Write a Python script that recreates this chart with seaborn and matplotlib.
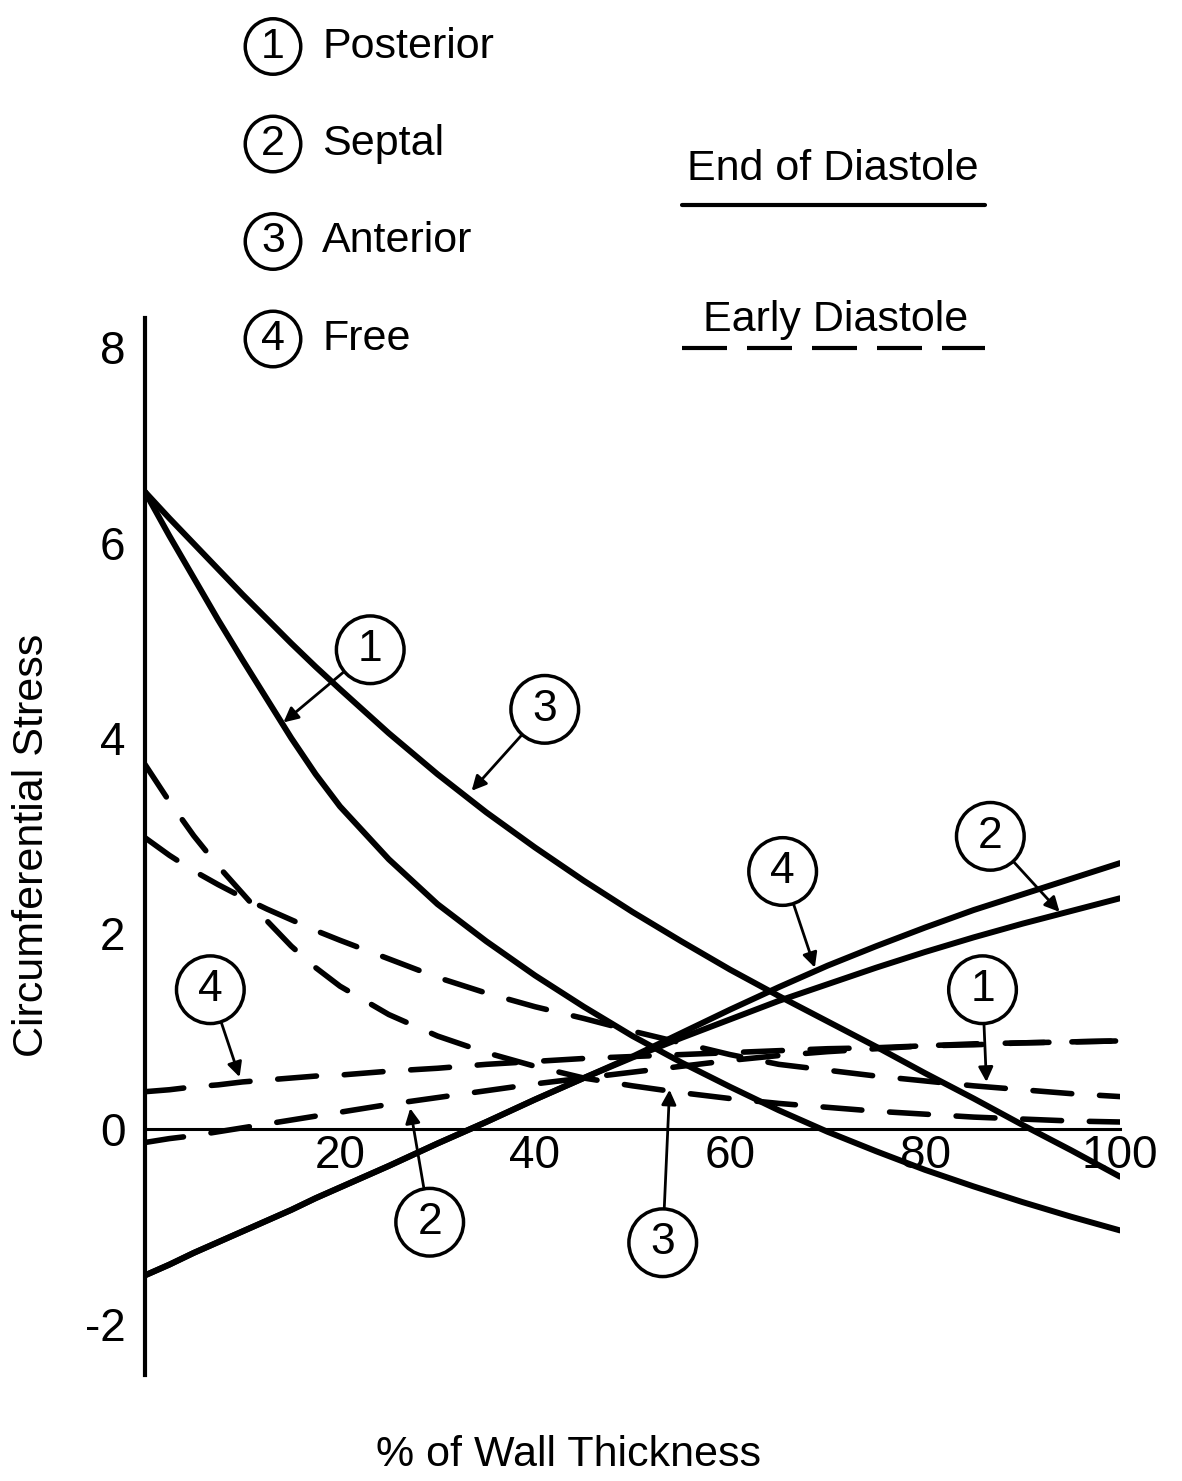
import matplotlib
matplotlib.use("Agg")
import matplotlib.pyplot as plt
import seaborn as sns
from matplotlib.lines import Line2D

# % of wall thickness
pct = [0, 2.5, 5, 7.5, 10, 12.5, 15, 17.5, 20, 25, 30, 35, 40, 45, 50, 55, 60, 65, 70, 75, 80, 85, 90, 95, 100]

# end of diastole (solid)
end_posterior = [6.52, 6.07, 5.64, 5.21, 4.8, 4.4, 4.0, 3.63, 3.3, 2.76, 2.3, 1.92, 1.57, 1.25, 0.95,
                 0.68, 0.43, 0.19, -0.03, -0.23, -0.42, -0.59, -0.75, -0.9, -1.04]
end_septal = [-1.5, -1.39, -1.27, -1.16, -1.05, -0.94, -0.83, -0.71, -0.6, -0.38, -0.15, 0.07, 0.3,
              0.52, 0.73, 0.93, 1.12, 1.31, 1.48, 1.65, 1.81, 1.96, 2.10, 2.23, 2.36]
end_anterior = [6.52, 6.25, 5.99, 5.73, 5.47, 5.22, 4.97, 4.73, 4.5, 4.05, 3.63, 3.24, 2.88, 2.54,
                2.22, 1.92, 1.63, 1.36, 1.1, 0.84, 0.57, 0.31, 0.04, -0.22, -0.49]
end_free = [-1.5, -1.39, -1.27, -1.16, -1.05, -0.94, -0.83, -0.71, -0.6, -0.38, -0.15, 0.07, 0.3,
            0.52, 0.74, 0.98, 1.22, 1.45, 1.67, 1.87, 2.06, 2.24, 2.40, 2.56, 2.72]

# early diastole (dashed)
early_posterior = [2.98, 2.8, 2.64, 2.5, 2.37, 2.25, 2.14, 2.03, 1.93, 1.74, 1.55, 1.39, 1.25,
                   1.13, 1.0, 0.88, 0.76, 0.66, 0.6, 0.54, 0.49, 0.44, 0.40, 0.36, 0.33]
early_septal = [-0.14, -0.1, -0.07, -0.03, 0.01, 0.05, 0.09, 0.13, 0.17, 0.25, 0.32, 0.39, 0.46,
                0.52, 0.58, 0.64, 0.70, 0.75, 0.79, 0.82, 0.85, 0.87, 0.88, 0.89, 0.90]
early_anterior = [3.73, 3.35, 3.0, 2.69, 2.41, 2.13, 1.87, 1.65, 1.46, 1.17, 0.95, 0.78, 0.64,
                  0.52, 0.44, 0.37, 0.31, 0.26, 0.22, 0.18, 0.15, 0.12, 0.10, 0.08, 0.07]
early_free = [0.38, 0.4, 0.43, 0.45, 0.48, 0.5, 0.52, 0.54, 0.55, 0.59, 0.62, 0.66, 0.69, 0.72,
              0.74, 0.76, 0.78, 0.80, 0.82, 0.83, 0.85, 0.86, 0.88, 0.89, 0.90]

region_names = ["Posterior", "Septal", "Anterior", "Free"]
x_ticks = [20, 40, 60, 80, 100]
y_ticks = [-2, 0, 2, 4, 6, 8]

sns.set_style("white")
plt.rcParams["font.family"] = ["Liberation Sans", "DejaVu Sans"]
plt.rcParams["axes.unicode_minus"] = False
plt.rcParams["text.color"] = "black"

W, H = 1182, 1481
fig = plt.figure(figsize=(W / 100, H / 100), dpi=100)
ax = fig.add_axes([145 / W, 1 - 1375 / H, 975 / W, 1057 / H])

solid_kw = dict(color="black", lw=4.3, solid_capstyle="round", solid_joinstyle="round")
dash_kw = dict(color="black", lw=4.0, linestyle=(0, (7, 5)), dash_capstyle="round")

for vals in [end_posterior, end_septal, end_anterior, end_free]:
    sns.lineplot(x=pct, y=vals, ax=ax, sort=False, **solid_kw)
for vals in [early_posterior, early_septal, early_anterior, early_free]:
    sns.lineplot(x=pct, y=vals, ax=ax, sort=False, **dash_kw)

ax.set_xlim(0, 100)
ax.set_ylim(-2.52, 8.3)
ax.set_xticks(x_ticks)
ax.set_yticks(y_ticks)
ax.set_xticklabels([str(t) for t in x_ticks])
ax.set_yticklabels([str(t) for t in y_ticks])
for s in ["top", "right"]:
    ax.spines[s].set_visible(False)
ax.spines["bottom"].set_position(("data", 0))
ax.spines["left"].set_linewidth(3)
ax.spines["bottom"].set_linewidth(2.2)
ax.spines["left"].set_color("black")
ax.spines["bottom"].set_color("black")
ax.tick_params(axis="x", direction="in", length=14, width=2, labelsize=33, pad=4, colors="black")
ax.tick_params(axis="y", direction="in", length=14, width=2, labelsize=33, pad=14, colors="black")
ax.set_xlabel("")
ax.set_ylabel("")
ax.patch.set_alpha(0)

# circled labels with arrows: (label, circle centre, arrow tip)
circ = dict(boxstyle="circle,pad=0.3", fc="white", ec="black", lw=2.5)
arrow = dict(arrowstyle="-|>", color="black", lw=2, shrinkA=0, shrinkB=0, mutation_scale=22)
callouts = [
    ("1", (23.1, 4.95), (14.2, 4.16)),
    ("3", (41.0, 4.34), (33.5, 3.46)),
    ("4", (65.4, 2.68), (68.7, 1.65)),
    ("2", (86.7, 3.04), (93.8, 2.22)),
    ("1", (85.9, 1.47), (86.3, 0.48)),
    ("4", (6.7, 1.47), (9.7, 0.53)),
    ("2", (29.2, -0.91), (27.2, 0.21)),
    ("3", (53.1, -1.12), (53.8, 0.40)),
]
for lab, xt, xy in callouts:
    ax.annotate(lab, xy=xy, xytext=xt, ha="center", va="center_baseline", fontsize=32,
                bbox=circ, arrowprops=arrow, zorder=5)

# region key (top left)
key_circ = dict(boxstyle="circle,pad=0.18", fc="white", ec="black", lw=2.5)
for i, name in enumerate(region_names):
    yc = 1 - (42 + i * 97.5) / H
    fig.text(273 / W, yc, str(i + 1), ha="center", va="center_baseline", fontsize=31, bbox=key_circ)
    fig.text(322 / W, yc, name, ha="left", va="center_baseline", fontsize=31)

# line style key (top right)
fig.text(833 / W, 1 - 165 / H, "End of Diastole", ha="center", va="center_baseline", fontsize=31)
fig.add_artist(Line2D([682 / W, 985 / W], [1 - 205 / H, 1 - 205 / H], color="black", lw=3))
fig.text(836 / W, 1 - 315 / H, "Early Diastole", ha="center", va="center_baseline", fontsize=31)
fig.add_artist(Line2D([682 / W, 985 / W], [1 - 348 / H, 1 - 348 / H], color="black", lw=3,
                      linestyle=(0, (10.8, 4.8))))

fig.text(32 / W, 1 - 845 / H, "Circumferential Stress", rotation=90, ha="center", va="center",
         fontsize=31)
fig.text(568 / W, 1 - 1455 / H, "% of Wall Thickness", ha="center", va="center", fontsize=31)

fig.savefig("out.png", dpi=100, facecolor="white")
